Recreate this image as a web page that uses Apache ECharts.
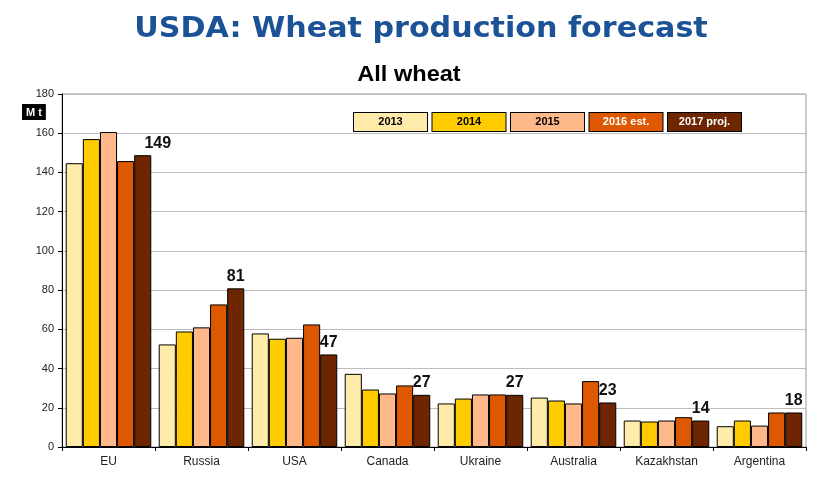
<!DOCTYPE html>
<html>
<head>
<meta charset="utf-8">
<script src="https://cdn.jsdelivr.net/npm/echarts@6/dist/echarts.min.js"></script>
<style>html,body{margin:0;padding:0;background:#fff}#c{width:837px;height:484px}</style>
</head>
<body>
<div id="c"></div>
<script>
const categories = ['EU','Russia','USA','Canada','Ukraine','Australia','Kazakhstan','Argentina'];
const seriesNames = ['2013','2014','2015','2016 est.','2017 proj.'];
const v2013 = [144.7, 52.3, 57.9, 37.3, 22.2, 25.2, 13.5, 10.6];
const v2014 = [157.0, 58.9, 55.2, 29.3, 24.7, 23.7, 13.0, 13.5];
const v2015 = [160.6, 61.0, 55.7, 27.3, 26.8, 22.2, 13.5, 10.9];
const v2016 = [145.8, 72.7, 62.5, 31.4, 26.8, 33.6, 15.2, 17.6];
const v2017 = [148.8, 80.9, 47.2, 26.6, 26.6, 22.7, 13.5, 17.6];
const yTicks = [0, 20, 40, 60, 80, 100, 120, 140, 160, 180];

const colors = ['#FFEBAA', '#FFCC00', '#FFB88A', '#DD5800', '#6E2600'];
const textColors = ['#000', '#000', '#000', '#fff', '#fff'];
const allValues = [v2013, v2014, v2015, v2016, v2017];

const chart = echarts.init(document.getElementById('c'));

const rich = {};
seriesNames.forEach((n, i) => {
  rich['k' + i] = {
    width: 73, height: 18, lineHeight: 18, align: 'center',
    backgroundColor: colors[i], borderColor: '#000', borderWidth: 1,
    color: textColors[i], fontWeight: 'bold', fontSize: 11,
    fontFamily: 'Liberation Sans, Arial, sans-serif'
  };
});

const series = seriesNames.map((n, i) => ({
  name: n,
  type: 'bar',
  barGap: 0,
  barCategoryGap: '8%',
  itemStyle: { color: colors[i], borderColor: '#000', borderWidth: 1 },
  emphasis: { disabled: true },
  data: allValues[i].map((v, j) => {
    if (i === 4 && j === 0) return { value: v, label: { offset: [15, 0] } };
    return v;
  }),
  label: i === 4 ? {
    show: true, position: 'top', distance: 4,
    formatter: p => Math.round(p.value),
    fontSize: 16, fontWeight: 'bold', color: '#111',
    fontFamily: 'Liberation Sans, Arial, sans-serif'
  } : { show: false }
}));

chart.setOption({
  animation: false,
  color: colors,
  graphic: [
    { type: 'text',
      style: { text: 'USDA: Wheat production forecast', fill: '#1C5296',
        font: 'bold 29px "DejaVu Sans", Verdana, sans-serif', textAlign: 'center', textVerticalAlign: 'top' },
      x: 421, y: 15, scaleX: 1.04 },
    { type: 'text',
      style: { text: 'All wheat', fill: '#000',
        font: 'bold 22px "Liberation Sans", Arial, sans-serif', textAlign: 'center', textVerticalAlign: 'top' },
      x: 409, y: 64, scaleX: 1.07 },
    { type: 'text',
      style: { text: 'M t', fill: '#fff', font: 'bold 11px "Liberation Sans", Arial, sans-serif',
        backgroundColor: '#000', padding: [3, 4, 2, 4] },
      x: 22, y: 104 }
  ],
  legend: {
    data: seriesNames,
    left: 343, top: 107,
    itemWidth: 0, itemHeight: 0, itemGap: -1.5,
    selectedMode: false,
    icon: 'rect',
    formatter: name => '{k' + seriesNames.indexOf(name) + '|' + name + '}',
    textStyle: { rich: rich, padding: 0 }
  },
  grid: { left: 62, right: 31, top: 94, bottom: 37, show: true, borderColor: '#999', borderWidth: 1 },
  xAxis: {
    type: 'category', data: categories,
    axisLine: { lineStyle: { color: '#000', width: 1 } },
    axisTick: { show: true, length: 4, alignWithLabel: false, lineStyle: { color: '#000' } },
    axisLabel: { color: '#222', fontSize: 12, margin: 9, fontFamily: 'Liberation Sans, Arial, sans-serif' }
  },
  yAxis: {
    type: 'value', min: yTicks[0], max: yTicks[yTicks.length - 1], interval: 20,
    axisLine: { show: true, lineStyle: { color: '#000', width: 1 } },
    axisTick: { show: true, length: 4, lineStyle: { color: '#000' } },
    axisLabel: { color: '#222', fontSize: 11, margin: 8, fontFamily: 'Liberation Sans, Arial, sans-serif' },
    splitLine: { lineStyle: { color: '#BDBDBD', width: 1 } }
  },
  series: series
});
</script>
</body>
</html>
